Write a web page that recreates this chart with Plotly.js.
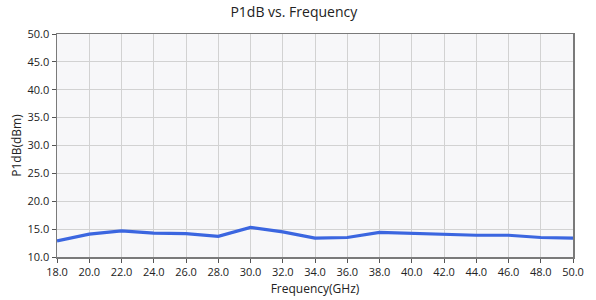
<!DOCTYPE html>
<html><head><meta charset="utf-8">
<script src="https://cdn.plot.ly/plotly-3.0.1.min.js"></script>
<style>html,body{margin:0;padding:0;background:#fff;}#c{width:596px;height:300px;}</style>
</head><body><div id="c"></div>
<script>
const freq = [18,20,22,24,26,28,30,32,34,36,38,40,42,44,46,48,50];
const p1db = [12.9,14.1,14.7,14.3,14.2,13.7,15.3,14.5,13.4,13.5,14.4,14.2,14.0,13.9,13.9,13.5,13.4];
const xTicks = [18,20,22,24,26,28,30,32,34,36,38,40,42,44,46,48,50];
const yTicks = [10,15,20,25,30,35,40,45,50];

Plotly.newPlot('c', [{
  x: freq, y: p1db, type: 'scatter', mode: 'lines',
  line: {color: '#3b66e0', width: 3.2}
}], {
  width: 596, height: 300,
  margin: {l: 57, r: 23, t: 34, b: 43},
  paper_bgcolor: '#ffffff', plot_bgcolor: '#f7f7f9',
  font: {family: 'Open Sans, sans-serif', color: '#222', size: 11},
  title: {text: 'P1dB vs. Frequency', font: {size: 14, color: '#222'}, x: 0.493, xanchor: 'center', y: 0.975, yanchor: 'top'},
  xaxis: {
    range: [18, 50], tickvals: xTicks, ticktext: xTicks.map(v => v.toFixed(1)),
    showgrid: true, gridcolor: '#d2d2d2', gridwidth: 1,
    showline: true, linecolor: '#7a7a7a', linewidth: 1.5, mirror: true,
    ticks: 'outside', ticklen: 4, tickcolor: '#555', zeroline: false,
    title: {text: 'Frequency(GHz)', font: {size: 12}, standoff: 7}
  },
  yaxis: {
    range: [10, 50], tickvals: yTicks, ticktext: yTicks.map(v => v.toFixed(1)),
    showgrid: true, gridcolor: '#d2d2d2', gridwidth: 1,
    showline: true, linecolor: '#7a7a7a', linewidth: 1.5, mirror: true,
    ticks: 'outside', ticklen: 4, tickcolor: '#555', zeroline: false,
    title: {text: 'P1dB(dBm)', font: {size: 12}, standoff: 3}
  },
  showlegend: false
}, {staticPlot: true, displayModeBar: false});
</script></body></html>
